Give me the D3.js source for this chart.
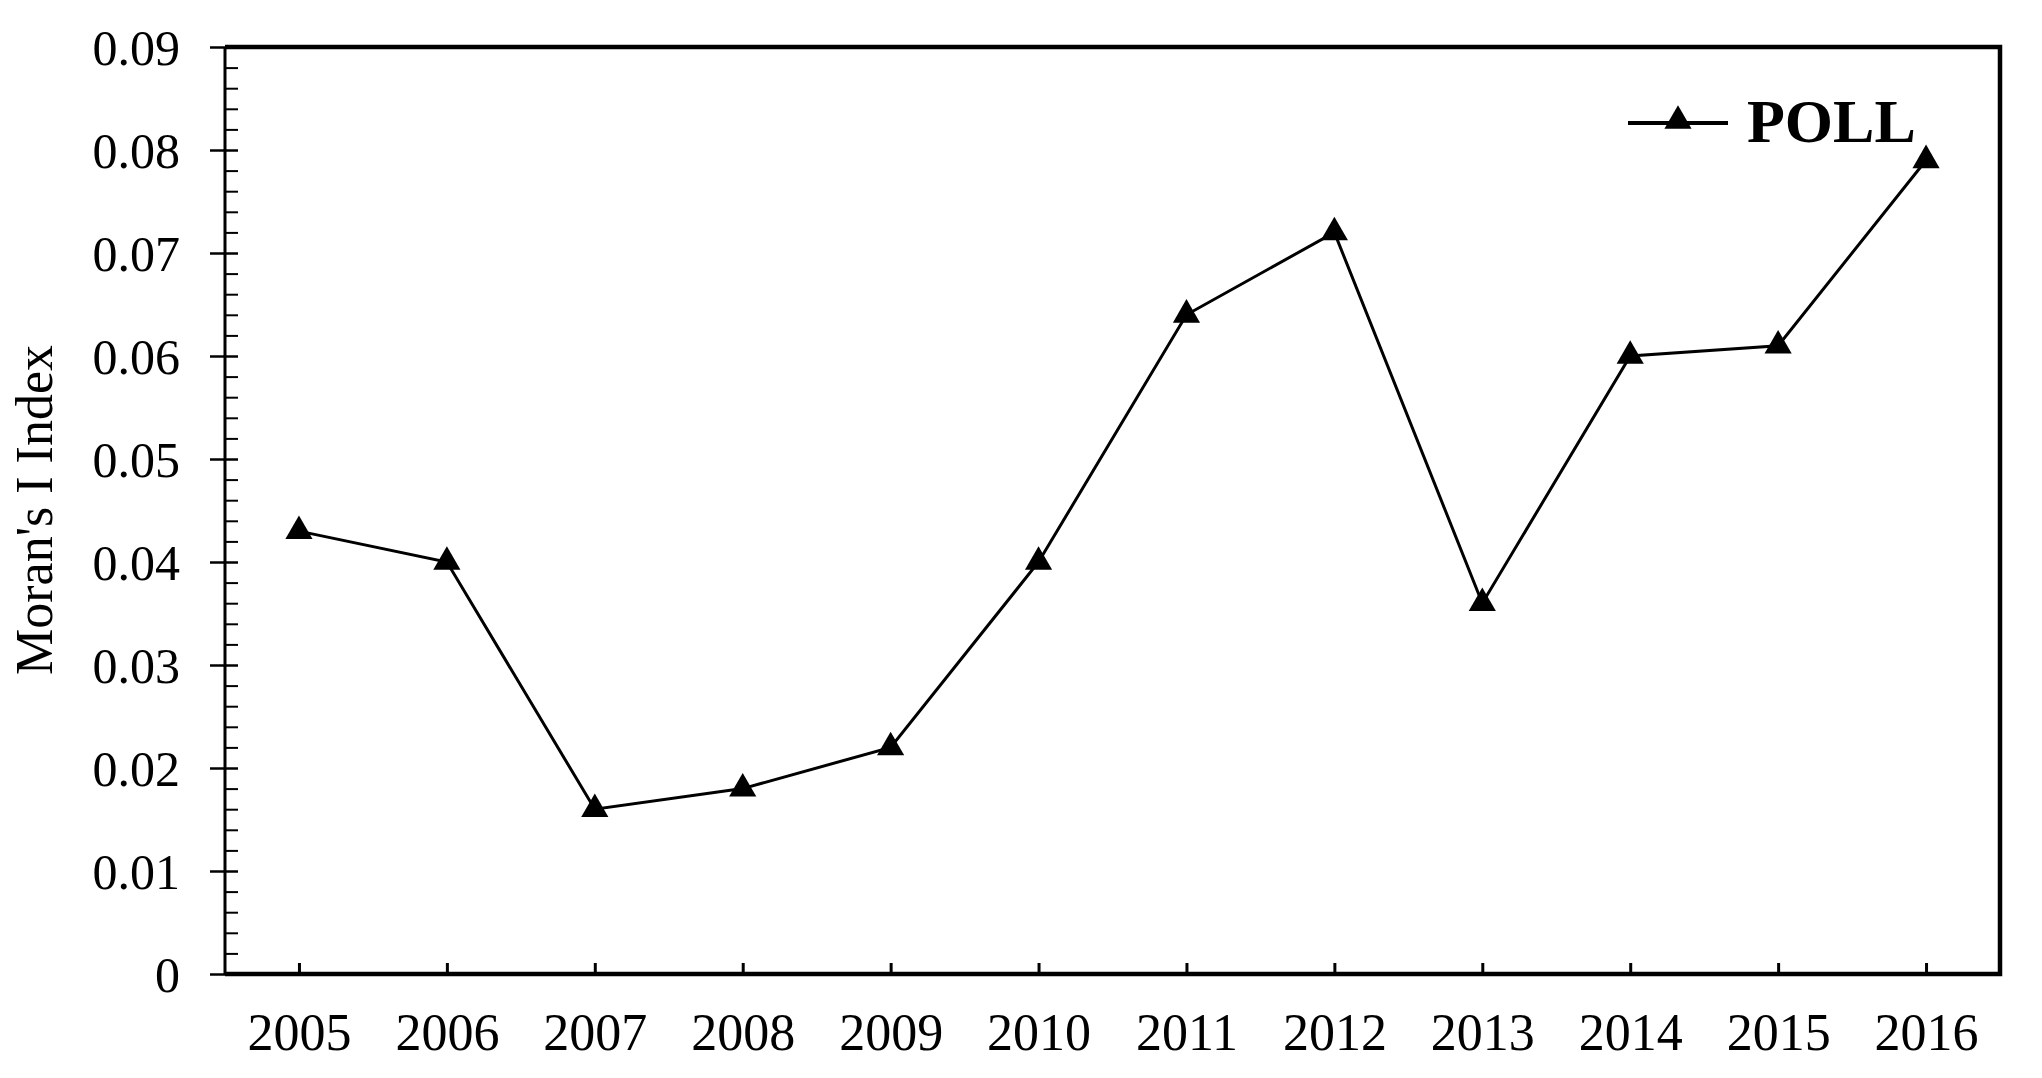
<!DOCTYPE html>
<html>
<head>
<meta charset="utf-8">
<script src="https://cdn.jsdelivr.net/npm/d3@7"></script>
<style>
  body { margin: 0; background: #fff; }
  svg text { font-family: "Liberation Serif", "Times New Roman", serif; fill: #000; }
</style>
</head>
<body>
<svg id="chart" width="2042" height="1078"></svg>
<script>
// data
let years = ["2005", "2006", "2007", "2008", "2009", "2010", "2011", "2012", "2013", "2014", "2015", "2016"];
let poll = [0.043, 0.040, 0.016, 0.018, 0.022, 0.040, 0.064, 0.072, 0.036, 0.060, 0.061, 0.079];
let yTicks = [0, 0.01, 0.02, 0.03, 0.04, 0.05, 0.06, 0.07, 0.08, 0.09];
let yTickLabels = ["0", "0.01", "0.02", "0.03", "0.04", "0.05", "0.06", "0.07", "0.08", "0.09"];
let seriesName = "POLL";
let yTitle = "Moran's I Index";

var drawChart = function() {
  let svg = d3.select("#chart");

  let margin = { top: 47, right: 42, bottom: 104, left: 225 };
  let width = 2042 - margin.left - margin.right;
  let height = 1078 - margin.top - margin.bottom;

  let x = d3.scalePoint()
    .domain(years)
    .range([0, width])
    .padding(0.5);

  let y = d3.scaleLinear()
    .domain([0, 0.09])
    .range([height, 0]);

  let plot = svg.append("g")
    .attr("transform", "translate(" + margin.left + "," + margin.top + ")");

  // minor ticks on y, inside
  let minor = [];
  for (let i = 0; i < yTicks.length - 1; i++) {
    let step = (yTicks[i + 1] - yTicks[i]) / 5;
    for (let k = 1; k < 5; k++) minor.push(yTicks[i] + k * step);
  }
  let yMinor = plot.append("g")
    .call(d3.axisLeft(y).tickValues(minor).tickSize(-13).tickFormat(""));
  yMinor.select(".domain").remove();
  yMinor.selectAll(".tick line").attr("stroke", "#000").attr("stroke-width", 2);

  // major ticks on y, crossing the axis
  let yGroup = plot.append("g")
    .call(d3.axisLeft(y)
      .tickValues(yTicks)
      .tickSize(15)
      .tickPadding(30)
      .tickFormat(function(d, i) { return yTickLabels[i]; }));
  yGroup.select(".domain").remove();
  yGroup.selectAll(".tick line")
    .attr("x1", 13)
    .attr("stroke", "#000")
    .attr("stroke-width", 2.5);
  yGroup.selectAll(".tick text")
    .style("font-size", "50px")
    .attr("dy", "0.34em");

  // x axis, ticks pointing up
  let xGroup = plot.append("g")
    .attr("transform", "translate(0," + height + ")")
    .call(d3.axisBottom(x).tickSize(-11).tickPadding(22));
  xGroup.select(".domain").remove();
  xGroup.selectAll(".tick line").attr("stroke", "#000").attr("stroke-width", 3);
  xGroup.selectAll(".tick text")
    .style("font-size", "52px")
    .attr("y", 39)
    .attr("dy", "0.71em");

  // frame
  plot.append("line")
    .attr("x1", 0).attr("x2", 0).attr("y1", 0).attr("y2", height)
    .attr("stroke", "#000").attr("stroke-width", 3);
  plot.append("path")
    .attr("d", "M0," + height + "H" + width + "V0H0")
    .attr("fill", "none")
    .attr("stroke", "#000")
    .attr("stroke-width", 4.5);

  // series
  let line = d3.line()
    .x(function(d, i) { return x(years[i]); })
    .y(function(d) { return y(d); });

  plot.append("path")
    .datum(poll)
    .attr("d", line)
    .attr("fill", "none")
    .attr("stroke", "#000")
    .attr("stroke-width", 3);

  let tri = d3.symbol().type(d3.symbolTriangle).size(320);
  plot.selectAll("path.pt")
    .data(poll)
    .enter().append("path")
    .attr("class", "pt")
    .attr("d", tri)
    .attr("transform", function(d, i) { return "translate(" + x(years[i]) + "," + y(d) + ")"; })
    .attr("fill", "#000");

  // legend
  let legend = svg.append("g").attr("transform", "translate(1628,123)");
  legend.append("line")
    .attr("x1", 0).attr("x2", 100)
    .attr("stroke", "#000").attr("stroke-width", 4);
  legend.append("path")
    .attr("d", d3.symbol().type(d3.symbolTriangle).size(320)())
    .attr("transform", "translate(50,-2)")
    .attr("fill", "#000");
  legend.append("text")
    .attr("x", 119)
    .attr("y", 19)
    .style("font-size", "62px")
    .style("font-weight", "bold")
    .text(seriesName);

  // y title
  svg.append("text")
    .attr("transform", "translate(52,510) rotate(-90)")
    .style("text-anchor", "middle")
    .style("font-size", "52px")
    .text(yTitle);
}

drawChart();
</script>
</body>
</html>
